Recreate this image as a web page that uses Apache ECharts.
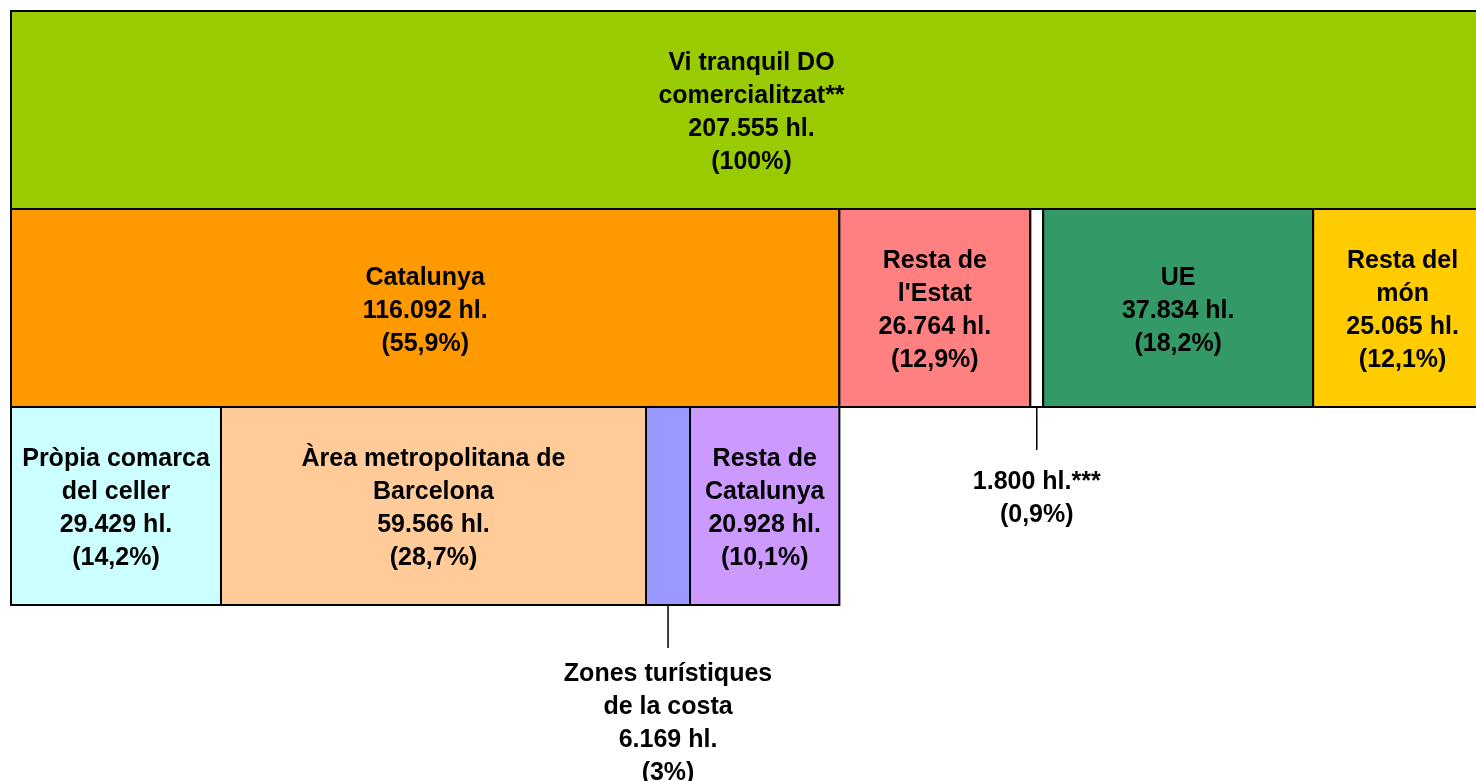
<!DOCTYPE html>
<html>
<head>
<meta charset="utf-8">
<script src="https://cdn.jsdelivr.net/npm/echarts@6/dist/echarts.min.js"></script>
<style>
  html, body { margin: 0; padding: 0; background: #fff; }
  #main { width: 1476px; height: 781px; }
</style>
</head>
<body>
<div id="main"></div>
<script>
// dades (hl.)
var row0Names = ['Vi tranquil DO\ncomercialitzat**'];
var row0Values = [207555];
var row0Pct = ['100%'];

var row1Names = ['Catalunya', "Resta de\nl'Estat", '', 'UE', 'Resta del\nmón'];
var row1Values = [116092, 26764, 1800, 37834, 25065];
var row1Pct = ['55,9%', '12,9%', '0,9%', '18,2%', '12,1%'];
var row1Suffix = ['', '', '***', '', ''];

var row2Names = ['Pròpia comarca\ndel celler', 'Àrea metropolitana de\nBarcelona', 'Zones turístiques\nde la costa', 'Resta de\nCatalunya'];
var row2Values = [29429, 59566, 6169, 20928];
var row2Pct = ['14,2%', '28,7%', '3%', '10,1%'];

// colors
var row0Colors = ['#99CC00'];
var row1Colors = ['#FF9900', '#FF8080', '#FFFFFF', '#339966', '#FFCC00'];
var row2Colors = ['#CCFFFF', '#FFCC99', '#9999FF', '#CC99FF'];
// labels a fora amb línia
var row1Outside = [false, false, true, false, false];
var row2Outside = [false, false, true, false];

// la barra de dalt surt una mica del quadre per la dreta (1481px de 1465 visibles)
var visibleMax = row0Values[0] * 1465 / 1481;
// separació de l'etiqueta de fora segons fila
var outGap = { 1: 59, 2: 53 };

function fmt(v) {
	return String(v).replace(/\B(?=(\d{3})+(?!\d))/g, '.');
}

var segs = [];
function addRow(row, names, values, pcts, colors, outside, suffix) {
	var acc = 0;
	for (var i = 0; i < values.length; i++) {
		var parts = [];
		if (names[i]) parts.push(names[i]);
		parts.push(fmt(values[i]) + ' hl.' + (suffix ? suffix[i] : ''));
		parts.push('(' + pcts[i] + ')');
		segs.push({
			value: [acc, acc + values[i], row],
			label: parts.join('\n'),
			color: colors[i],
			outside: outside ? outside[i] : false
		});
		acc += values[i];
	}
}
addRow(0, row0Names, row0Values, row0Pct, row0Colors, null, null);
addRow(1, row1Names, row1Values, row1Pct, row1Colors, row1Outside, row1Suffix);
addRow(2, row2Names, row2Values, row2Pct, row2Colors, row2Outside, null);

var textBase = {
	fill: '#000',
	fontSize: 25,
	fontWeight: 'bold',
	fontFamily: '"Liberation Sans", Arial, sans-serif',
	lineHeight: 33,
	align: 'center'
};

function renderItem(params, api) {
	var s = segs[params.dataIndex];
	var row = api.value(2);
	var p0 = api.coord([api.value(0), row]);
	var p1 = api.coord([api.value(1), row]);
	var h = api.size([0, 1])[1];
	var x = p0[0], y = p0[1] - h / 2, w = p1[0] - p0[0];
	var cx = x + w / 2;
	var children = [{
		type: 'rect',
		shape: { x: x, y: y, width: w, height: h },
		style: { fill: s.color, stroke: '#000', lineWidth: 2 }
	}];
	if (s.outside) {
		children.push({
			type: 'line',
			shape: { x1: cx, y1: y + h, x2: cx, y2: y + h + 43 },
			style: { stroke: '#000', lineWidth: 1.5 }
		});
		children.push({
			type: 'text',
			style: Object.assign({ text: s.label, x: cx, y: y + h + outGap[row], verticalAlign: 'top' }, textBase),
			z2: 10
		});
	} else {
		children.push({
			type: 'text',
			style: Object.assign({ text: s.label, x: cx, y: y + h / 2 + 3, verticalAlign: 'middle' }, textBase),
			z2: 10
		});
	}
	return { type: 'group', children: children };
}

var chart = echarts.init(document.getElementById('main'));
chart.setOption({
	animation: false,
	backgroundColor: '#fff',
	grid: { left: 11, right: 0, top: 11, bottom: 176 },
	xAxis: { type: 'value', min: 0, max: visibleMax, show: false },
	yAxis: { type: 'category', data: ['0', '1', '2'], inverse: true, show: false },
	series: [{
		type: 'custom',
		renderItem: renderItem,
		clip: false,
		encode: { x: [0, 1], y: 2 },
		data: segs.map(function (d) { return d.value; })
	}]
});
</script>
</body>
</html>
